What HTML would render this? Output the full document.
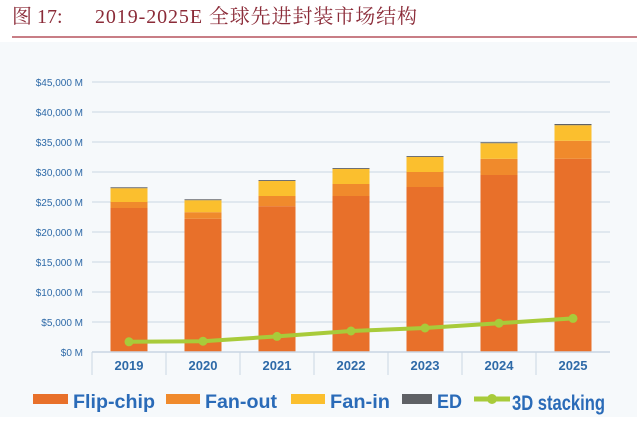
<!DOCTYPE html>
<html><head><meta charset="utf-8"><style>
body{margin:0;background:#fff;}
svg text{font-family:"Liberation Sans","Noto Sans CJK SC",sans-serif;}
</style></head><body>
<svg width="637" height="417" viewBox="0 0 637 417" xmlns="http://www.w3.org/2000/svg">
<rect x="0" y="42" width="637" height="375" fill="#f6f9fb"/>
<text x="12" y="23" font-size="20" fill="#8b2b38" style="font-family:'Liberation Serif','Noto Serif CJK SC',serif">图 17:</text>
<text x="95" y="23" font-size="20" fill="#8b2b38" textLength="322" style="font-family:'Liberation Serif','Noto Serif CJK SC',serif">2019-2025E 全球先进封装市场结构</text>
<line x1="12" y1="37" x2="637" y2="37" stroke="#b5545e" stroke-width="1.5"/>
<g id="grid"></g><g id="bars"></g><g id="line"></g><g id="axis"></g>
<g id="legend">
<rect x="33" y="394" width="35" height="10" fill="#e8702a"/>
<text x="73" y="408" font-size="19" font-weight="bold" fill="#2a6bb8" textLength="82" lengthAdjust="spacingAndGlyphs">Flip-chip</text>
<rect x="166" y="394" width="34" height="10" fill="#f08a2c"/>
<text x="205" y="408" font-size="19" font-weight="bold" fill="#2a6bb8" textLength="72" lengthAdjust="spacingAndGlyphs">Fan-out</text>
<rect x="291" y="394" width="34" height="10" fill="#fbbf2e"/>
<text x="330" y="408" font-size="19" font-weight="bold" fill="#2a6bb8" textLength="60" lengthAdjust="spacingAndGlyphs">Fan-in</text>
<rect x="402" y="394" width="30" height="10" fill="#5f6165"/>
<text x="437" y="408" font-size="19" font-weight="bold" fill="#2a6bb8" textLength="25" lengthAdjust="spacingAndGlyphs">ED</text>
<line x1="474" y1="399" x2="510" y2="399" stroke="#a8cb3a" stroke-width="5"/>
<circle cx="492" cy="399" r="5" fill="#a8cb3a"/>
<text x="512" y="410" font-size="21" font-weight="bold" fill="#2a6bb8" textLength="93" lengthAdjust="spacingAndGlyphs">3D stacking</text>
</g>
</svg>
<script>
const categories=["2019","2020","2021","2022","2023","2024","2025"];
const flipChip=[24.0,22.2,24.3,26.0,27.5,29.5,32.2];
const fanOut=[1.0,1.1,1.7,2.0,2.5,2.7,3.0];
const fanIn=[2.3,2.0,2.5,2.5,2.5,2.6,2.6];
const ed=[0.15,0.15,0.15,0.15,0.15,0.15,0.2];
const stacking3d=[1.7,1.8,2.6,3.5,4.0,4.8,5.6];
const yTicks=[0,5,10,15,20,25,30,35,40,45];
const yTickLabels=["$0 M","$5,000 M","$10,000 M","$15,000 M","$20,000 M","$25,000 M","$30,000 M","$35,000 M","$40,000 M","$45,000 M"];
const NS="http://www.w3.org/2000/svg";
const x0=92,x1=610,yBase=352,yTop=82;
const step=(x1-x0)/categories.length;
function y(v){return yBase-(v/45)*(yBase-yTop);}
function xc(i){return x0+step*(i+0.5);}
function mk(tag,attrs,parent){const e=document.createElementNS(NS,tag);for(const k in attrs)e.setAttribute(k,attrs[k]);document.getElementById(parent).appendChild(e);return e;}
yTicks.forEach((t,i)=>{
  const l=mk('line',{x1:x0,x2:x1,y1:y(t),y2:y(t),stroke:'#c9d6e3','stroke-width':1},'grid');
  
  
  const tx=mk('text',{x:83,y:y(t)+4,'font-size':10,fill:'#2e6aa8','text-anchor':'end'},'grid');
  tx.textContent=yTickLabels[i];
  
  
});
const series=[[flipChip,'#e8702a','flip-chip'],[fanOut,'#f08a2c','fan-out'],[fanIn,'#fbbf2e','fan-in'],[ed,'#5f6165','ed']];
categories.forEach((c,i)=>{
  let acc=0;const w=37;
  series.forEach(([arr,col,nm])=>{
    const r=mk('rect',{x:xc(i)-w/2,y:y(acc+arr[i]),width:w,height:y(acc)-y(acc+arr[i]),fill:col},'bars');
    
    
    acc+=arr[i];
  });
  const t=mk('text',{x:xc(i),y:370,'font-size':13,'font-weight':'bold',fill:'#2e6aa8','text-anchor':'middle'},'axis');
  t.textContent=c;
  
  
  const s=mk('line',{x1:x0+step*i,x2:x0+step*i,y1:yBase,y2:375,stroke:'#c9d6e3'},'axis');
  
  
});
const ax=mk('line',{x1:x0,x2:x1,y1:yBase,y2:yBase,stroke:'#c9d6e3','stroke-width':1.5},'axis');


const pl=mk('polyline',{points:stacking3d.map((v,i)=>xc(i)+','+y(v)).join(' '),fill:'none',stroke:'#a8cb3a','stroke-width':4},'line');


stacking3d.forEach((v,i)=>{
  const p=mk('circle',{cx:xc(i),cy:y(v),r:4.5,fill:'#a8cb3a'},'line');
  
  
});
</script>
</body></html>
